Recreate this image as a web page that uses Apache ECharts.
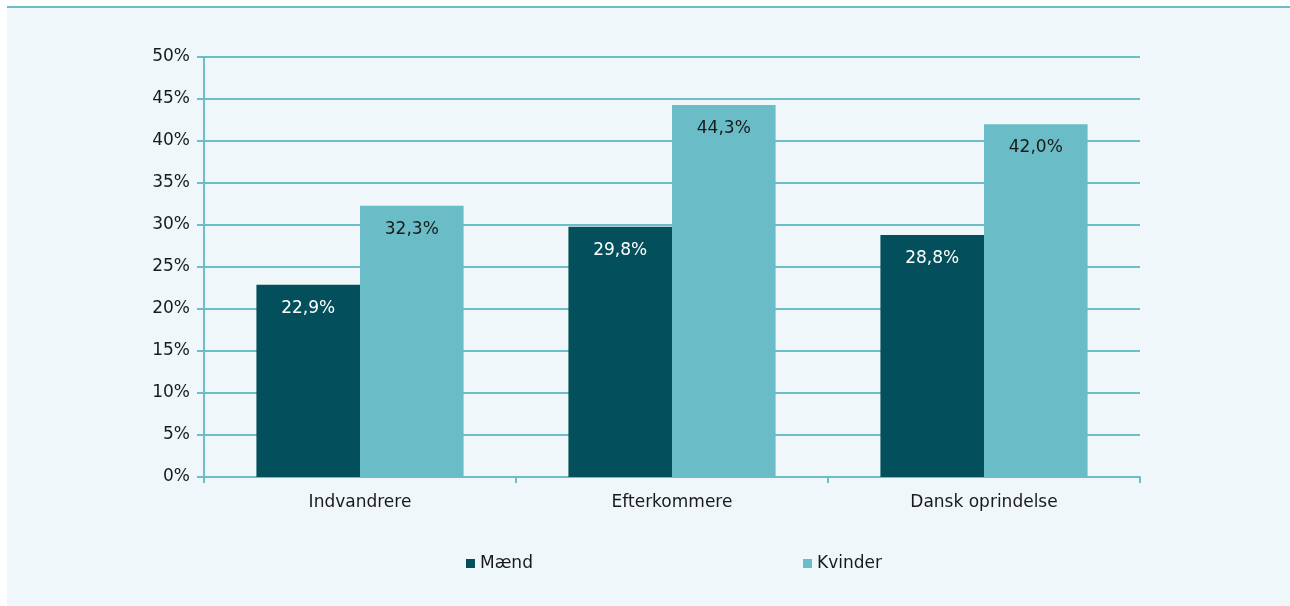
<!DOCTYPE html>
<html>
<head>
<meta charset="utf-8">
<script src="https://cdn.jsdelivr.net/npm/echarts@6/dist/echarts.min.js"></script>
<style>
  html, body { margin: 0; padding: 0; background: #ffffff; }
  #chart { width: 1290px; height: 606px; }
</style>
</head>
<body>
<div id="chart"></div>
<script>
const categories = ["Indvandrere", "Efterkommere", "Dansk oprindelse"];
const maendValues = [22.9, 29.8, 28.8];
const kvinderValues = [32.3, 44.3, 42.0];
const seriesNames = ["Mænd", "Kvinder"];

const GRID_COLOR = "#6bbdc8";
const TEXT_COLOR = "#1a1a1a";
const FONT = "DejaVu Sans";
const FONT_SIZE = 17;

function formatPct(value) {
  return `${Number(value).toFixed(1).replace(".", ",")}%`;
}

const chart = echarts.init(document.getElementById("chart"));

const legendBase = {
  top: 550,
  icon: "rect",
  itemWidth: 9,
  itemHeight: 9,
  itemGap: 4,
  textStyle: { color: TEXT_COLOR, fontSize: FONT_SIZE, fontFamily: FONT, padding: [0, 0, 0, 0] }
};

chart.setOption({
  animation: false,
  textStyle: { fontFamily: FONT },
  graphic: [
    {
      type: "rect",
      shape: { x: 7, y: 7, width: 1283, height: 599 },
      style: { fill: "#eff7fa" },
      z: -10
    },
    {
      type: "line",
      shape: { x1: 7, y1: 7, x2: 1290, y2: 7 },
      style: { stroke: GRID_COLOR, lineWidth: 2 },
      z: -9
    }
  ],
  grid: {
    left: 204,
    right: 150,
    top: 57,
    bottom: 129
  },
  legend: [
    Object.assign({ data: [seriesNames[0]], left: 461 }, legendBase),
    Object.assign({ data: [seriesNames[1]], left: 798 }, legendBase)
  ],
  xAxis: {
    type: "category",
    data: categories,
    axisLine: { lineStyle: { color: GRID_COLOR, width: 2 } },
    axisTick: { show: true, length: 6, lineStyle: { color: GRID_COLOR, width: 2 } },
    axisLabel: { color: TEXT_COLOR, fontSize: FONT_SIZE, margin: 17 }
  },
  yAxis: {
    type: "value",
    min: 0,
    max: 50,
    interval: 5,
    axisLine: { show: true, lineStyle: { color: GRID_COLOR, width: 2 } },
    axisTick: { show: true, length: 7, lineStyle: { color: GRID_COLOR, width: 2 } },
    axisLabel: {
      color: TEXT_COLOR,
      fontSize: FONT_SIZE,
      margin: 14,
      formatter: (value) => `${value}%`
    },
    splitLine: { lineStyle: { color: GRID_COLOR, width: 2 } }
  },
  series: [
    {
      name: seriesNames[0],
      type: "bar",
      data: maendValues,
      barGap: "0%",
      barCategoryGap: "33.6%",
      itemStyle: { color: "#034f5b" },
      label: {
        show: true,
        position: "insideTop",
        distance: 15,
        color: "#ffffff",
        fontSize: FONT_SIZE,
        formatter: (p) => formatPct(p.value)
      }
    },
    {
      name: seriesNames[1],
      type: "bar",
      data: kvinderValues,
      barGap: "0%",
      barCategoryGap: "33.6%",
      itemStyle: { color: "#6abcc7" },
      label: {
        show: true,
        position: "insideTop",
        distance: 15,
        color: "#1a1a1a",
        fontSize: FONT_SIZE,
        formatter: (p) => formatPct(p.value)
      }
    }
  ]
});
</script>
</body>
</html>
